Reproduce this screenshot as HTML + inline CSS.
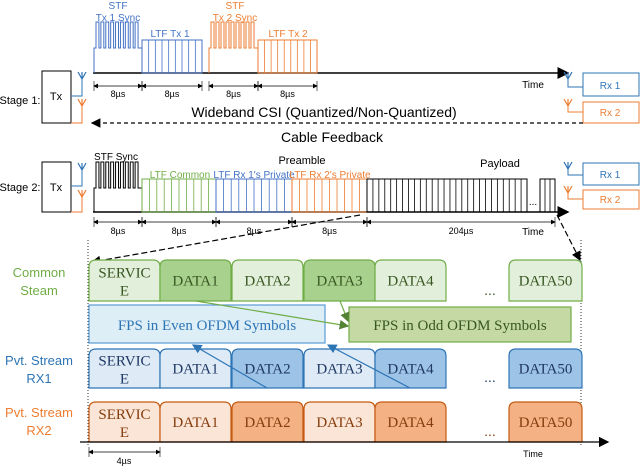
<!DOCTYPE html>
<html><head><meta charset="utf-8"><style>
body{margin:0;background:#fff}
svg{display:block;font-family:"Liberation Sans",sans-serif}
.serif{font-family:"Liberation Serif",serif}
</style></head><body>
<svg id="s" width="640" height="466" viewBox="0 0 640 466" xmlns="http://www.w3.org/2000/svg">
<defs>
<marker id="ah" markerWidth="8" markerHeight="8" refX="7" refY="4" orient="auto"><path d="M0,0 L8,4 L0,8 z" fill="#000"/></marker>
<marker id="ahs" markerWidth="6" markerHeight="6" refX="5" refY="3" orient="auto"><path d="M0,0 L6,3 L0,6 z" fill="#000"/></marker>
<marker id="ahsr" markerWidth="6" markerHeight="6" refX="1" refY="3" orient="auto"><path d="M6,0 L0,3 L6,6 z" fill="#000"/></marker>
<marker id="ag" markerWidth="8" markerHeight="8" refX="7" refY="4" orient="auto"><path d="M0,0 L8,4 L0,8 z" fill="#548235"/></marker>
<marker id="ab" markerWidth="8" markerHeight="8" refX="7" refY="4" orient="auto"><path d="M0,0 L8,4 L0,8 z" fill="#2e75b6"/></marker>
</defs>
<g id="g"></g>
<text x="20" y="104" font-size="11" text-anchor="middle">Stage 1:</text>
<text x="20" y="191" font-size="11" text-anchor="middle">Stage 2:</text>
<text x="56" y="100" font-size="11" text-anchor="middle">Tx</text>
<text x="56" y="191" font-size="11" text-anchor="middle">Tx</text>
<text x="118" y="9" font-size="10" fill="#4472c4" text-anchor="middle">STF</text>
<text x="118" y="21" font-size="10" fill="#4472c4" text-anchor="middle">Tx 1 Sync</text>
<text x="170" y="37" font-size="10" fill="#4472c4" text-anchor="middle">LTF Tx 1</text>
<text x="235" y="9" font-size="10" fill="#ed7d31" text-anchor="middle">STF</text>
<text x="235" y="21" font-size="10" fill="#ed7d31" text-anchor="middle">Tx 2 Sync</text>
<text x="288" y="37" font-size="10" fill="#ed7d31" text-anchor="middle">LTF Tx 2</text>
<text x="533" y="88" font-size="10" text-anchor="middle">Time</text>
<text x="610" y="89" font-size="10" fill="#2e75b6" text-anchor="middle">Rx 1</text>
<text x="610" y="116" font-size="10" fill="#ed7d31" text-anchor="middle">Rx 2</text>
<text x="324" y="117" font-size="14" text-anchor="middle">Wideband CSI (Quantized/Non-Quantized)</text>
<text x="332" y="142" font-size="14" text-anchor="middle">Cable Feedback</text>
<text x="116" y="160" font-size="10" text-anchor="middle">STF  Sync</text>
<text x="302" y="164" font-size="11" text-anchor="middle">Preamble</text>
<text x="500" y="167" font-size="11" text-anchor="middle">Payload</text>
<text x="180" y="178" font-size="10" fill="#70ad47" text-anchor="middle">LTF  Common</text>
<text x="254" y="178" font-size="10" fill="#4472c4" text-anchor="middle">LTF Rx 1's Private</text>
<text x="330" y="178" font-size="10" fill="#ed7d31" text-anchor="middle">LTF Rx 2's Private</text>
<text x="533" y="235" font-size="10" text-anchor="middle">Time</text>
<text x="610" y="178" font-size="10" fill="#2e75b6" text-anchor="middle">Rx 1</text>
<text x="610" y="203" font-size="10" fill="#ed7d31" text-anchor="middle">Rx 2</text>
<text x="533" y="457" font-size="9" text-anchor="middle">Time</text>
<text x="124" y="464" font-size="9" text-anchor="middle">4µs</text>
<text x="39" y="277" font-size="13" fill="#70ad47" text-anchor="middle">Common</text>
<text x="39" y="295" font-size="13" fill="#70ad47" text-anchor="middle">Steam</text>
<text x="39" y="365" font-size="13" fill="#2e75b6" text-anchor="middle">Pvt. Stream</text>
<text x="39" y="383" font-size="13" fill="#2e75b6" text-anchor="middle">RX1</text>
<text x="39" y="417" font-size="13" fill="#ed7d31" text-anchor="middle">Pvt. Stream</text>
<text x="39" y="435" font-size="13" fill="#ed7d31" text-anchor="middle">RX2</text>
</svg>
<script>
const NS="http://www.w3.org/2000/svg";
const G=document.getElementById('g');
function mk(tag,a,name){const e=document.createElementNS(NS,tag);for(const k in a)e.setAttribute(k,a[k]);


G.appendChild(e);return e;}
function line(x1,y1,x2,y2,st,w,name,extra){const a={x1,y1,x2,y2,stroke:st,'stroke-width':w||1};Object.assign(a,extra||{});return mk('line',a,name);}
function txt(x,y,s,sz,fill,name,cls){const t=mk('text',{x,y,'font-size':sz,fill:fill||'#000','text-anchor':'middle'},name);if(cls)t.setAttribute('class',cls);t.textContent=s;return t;}
function stf(x0,x1,base,plat,top,n,col,name){let d=`M${x0},${base} L${x0},${plat} L${x0+2},${plat}`;const w=(x1-x0-4)/n;
for(let i=0;i<n;i++){const a=x0+2+i*w;d+=` L${a},${top} L${a+w*0.6},${top} L${a+w*0.6},${plat} L${a+w},${plat}`;}
d+=` L${x1},${plat} L${x1},${base}`;mk('path',{d,fill:'none',stroke:col,'stroke-width':1},name);}
function ltf(x0,x1,base,top,n,col,name){mk('rect',{x:x0,y:top,width:x1-x0,height:base-top,fill:'none',stroke:col,'stroke-width':1},name);
for(let i=1;i<n;i++){const x=x0+(x1-x0)*i/n;line(x,top,x,base,col,0.8,name+'-line');}}
function dim(x0,x1,y,label,sz,ly,name){line(x0,y,x1,y,'#000',0.8,name,{'marker-end':'url(#ahs)','marker-start':'url(#ahsr)'});
line(x0,y-5,x0,y+5,'#000',0.6,name+'-tick');line(x1,y-5,x1,y+5,'#000',0.6,name+'-tick');txt((x0+x1)/2,ly,label,sz,'#000',name+'-label');}
function ant(x,y,col,name){mk('path',{d:`M${x-4},${y} L${x},${y+7} L${x+4},${y} M${x},${y} L${x},${y+7}`,fill:'none',stroke:col,'stroke-width':1.2},name);}
mk('rect',{x:42,y:71,width:29,height:52,fill:'#fff',stroke:'#000','stroke-width':1},'tx-box-1');
ant(82,72,'#2e75b6','tx1-antenna');mk('path',{d:'M82,79 L82,96 L71,96',fill:'none',stroke:'#2e75b6'},'tx1-antenna-feed');
ant(82,99,'#ed7d31','tx2-antenna');mk('path',{d:'M82,106 L82,123 L71,123',fill:'none',stroke:'#ed7d31'},'tx2-antenna-feed');
line(93,73,568,73,'#000',1.5,'time-axis-1',{'marker-end':'url(#ah)'});
stf(94,142,73,48,22,9,'#4472c4','stf-tx1');ltf(142,202,73,40,9,'#4472c4','ltf-tx1');
stf(209,258,73,48,22,9,'#ed7d31','stf-tx2');ltf(258,317,73,40,9,'#ed7d31','ltf-tx2');
[[94,142],[142,202],[209,258],[258,317]].forEach((p,i)=>dim(p[0],p[1],86,'8µs',9,97,'dim-stage1-'+i));
mk('rect',{x:583,y:73,width:56,height:23,fill:'#fff',stroke:'#2e75b6'},'rx1-box-1');
mk('rect',{x:583,y:102,width:56,height:21,fill:'#fff',stroke:'#ed7d31'},'rx2-box-1');
ant(568,72,'#2e75b6','rx1-antenna-1');mk('path',{d:'M568,79 L568,87 L583,87',fill:'none',stroke:'#2e75b6'},'rx1-feed-1');
ant(568,99,'#ed7d31','rx2-antenna-1');mk('path',{d:'M568,106 L568,112 L583,112',fill:'none',stroke:'#ed7d31'},'rx2-feed-1');
line(583,123,92,123,'#000',1.2,'feedback-arrow',{'stroke-dasharray':'4,3','marker-end':'url(#ah)'});
mk('rect',{x:42,y:162,width:29,height:50,fill:'#fff',stroke:'#000'},'tx-box-2');
ant(82,163,'#2e75b6','tx1-antenna-2');mk('path',{d:'M82,170 L82,186 L71,186',fill:'none',stroke:'#2e75b6'},'tx1-feed-2');
ant(82,190,'#ed7d31','tx2-antenna-2');mk('path',{d:'M82,197 L82,212 L71,212',fill:'none',stroke:'#ed7d31'},'tx2-feed-2');
line(93,212,568,212,'#000',1.5,'time-axis-2',{'marker-end':'url(#ah)'});
stf(94,142,212,188,162,9,'#000','stf-stage2');
ltf(142,216,212,179,10,'#70ad47','ltf-common');
ltf(216,292,212,179,10,'#4472c4','ltf-rx1-private');
ltf(292,367,212,179,10,'#ed7d31','ltf-rx2-private');
ltf(367,527,212,179,27,'#000','payload');
txt(533,205,'...',10,'#000','payload-ellipsis');
ltf(540,555,212,179,3,'#000','payload-last');
[[94,142,'8µs'],[142,216,'8µs'],[216,292,'8µs'],[292,367,'8µs'],[367,555,'204µs']].forEach((p,i)=>dim(p[0],p[1],222,p[2],9,234,'dim-stage2-'+i));
mk('rect',{x:583,y:163,width:56,height:22,fill:'#fff',stroke:'#2e75b6'},'rx1-box-2');
mk('rect',{x:583,y:190,width:56,height:19,fill:'#fff',stroke:'#ed7d31'},'rx2-box-2');
ant(568,162,'#2e75b6','rx1-antenna-2');mk('path',{d:'M568,169 L568,175 L583,175',fill:'none',stroke:'#2e75b6'},'rx1-feed-2');
ant(568,186,'#ed7d31','rx2-antenna-2');mk('path',{d:'M568,193 L568,199 L583,199',fill:'none',stroke:'#ed7d31'},'rx2-feed-2');
line(360,215,92,262,'#000',1.2,'zoom-line-left',{'stroke-dasharray':'6,3','marker-end':'url(#ah)'});
line(557,215,580,260,'#000',1.2,'zoom-line-right',{'stroke-dasharray':'6,3','marker-end':'url(#ah)'});
line(88,240,88,445,'#000',0.8,'dotted-left',{'stroke-dasharray':'1,2'});
line(581,240,581,445,'#000',0.8,'dotted-right',{'stroke-dasharray':'1,2'});
const labels=['SERVIC|E','DATA1','DATA2','DATA3','DATA4','DATA50'];
const xs=[89,160,232,304,375,509];
function tab(x,y,w,h,fill,st,name){const r=7;mk('path',{d:`M${x},${y+h} L${x},${y+r} Q${x},${y} ${x+r},${y} L${x+w-r},${y} Q${x+w},${y} ${x+w},${y+r} L${x+w},${y+h} Z`,fill,stroke:st,'stroke-width':1.2},name);}
function row(y,h,light,dark,st,tc,darkIdx,name){xs.forEach((x,i)=>{const w=(i==5?73:71);tab(x,y,w,h,darkIdx.includes(i)?dark:light,st,name+'-block-'+i);
const parts=labels[i].split('|');if(parts.length==2){txt(x+w/2,y+h/2-3,parts[0],15,tc,name+'-service-1','serif');txt(x+w/2,y+h/2+15,parts[1],15,tc,name+'-service-2','serif');}
else txt(x+w/2,y+h/2+5,labels[i],15,tc,name+'-'+labels[i].toLowerCase(),'serif');});
txt(490,y+h-6,'...',14,tc,name+'-ellipsis');}
row(260,41,'#e2efda','#a9d18e','#70ad47','#385723',[1,3],'common');
row(349,39,'#deebf7','#9dc3e6','#2e75b6','#1f3864',[2,4,5],'rx1');
row(402,40,'#fbe5d6','#f4b183','#c55a11','#843c0c',[2,4,5],'rx2');
line(80,442,608,442,'#000',1.3,'time-axis-3',{'marker-end':'url(#ah)'});
dim(89,160,452,'',9,464,'dim-4us');
mk('rect',{x:89,y:305,width:236,height:38,fill:'#ddeef6',stroke:'#5b9bd5','stroke-width':1.2},'fps-even-box');
txt(207,330,'FPS in Even OFDM Symbols',15,'#2e75b6','fps-even-label','serif');
mk('rect',{x:349,y:307,width:222,height:35,fill:'#c5d9a5',stroke:'#70ad47','stroke-width':1.2},'fps-odd-box');
txt(460,330,'FPS in Odd OFDM Symbols',15,'#385723','fps-odd-label','serif');
line(196,301,348,326,'#70ad47',1.2,'arrow-data1-odd',{'marker-end':'url(#ag)'});
line(340,301,348,321,'#70ad47',1.2,'arrow-data3-odd',{'marker-end':'url(#ag)'});
line(267,388,193,345,'#2e75b6',1.2,'arrow-data2-even',{'marker-end':'url(#ab)'});
line(410,388,328,345,'#2e75b6',1.2,'arrow-data4-even',{'marker-end':'url(#ab)'});
</script>
</body></html>
